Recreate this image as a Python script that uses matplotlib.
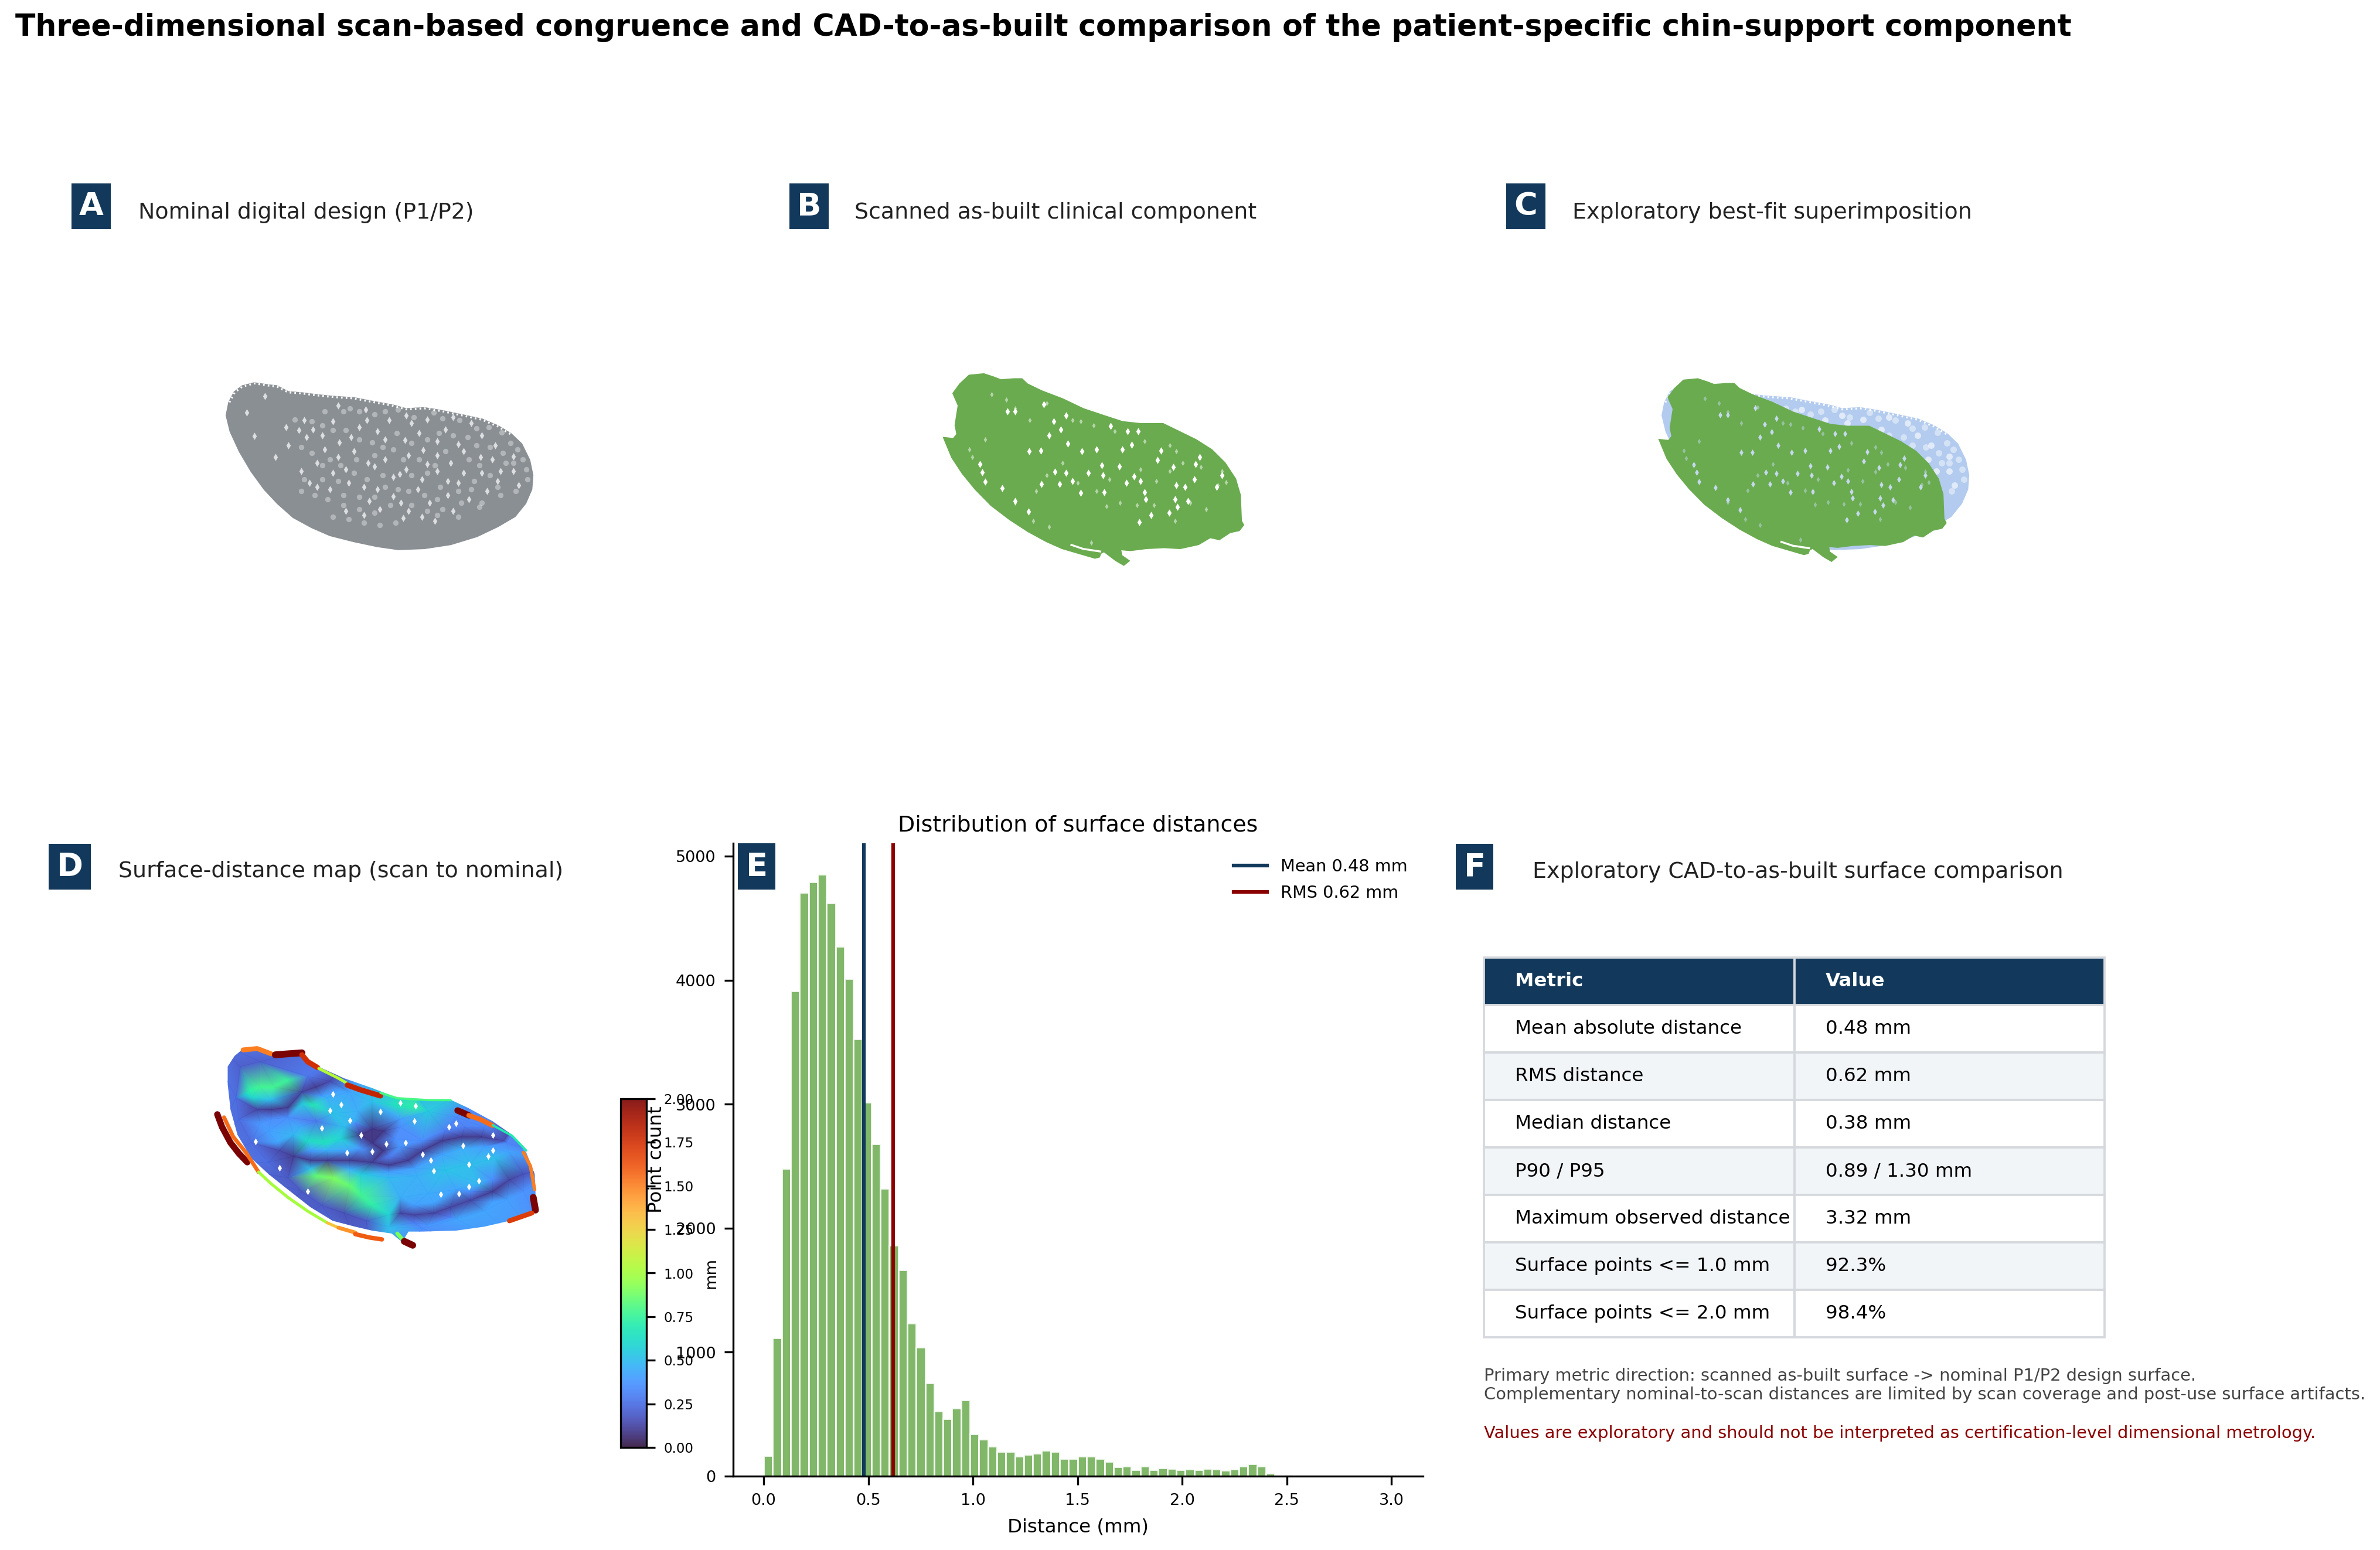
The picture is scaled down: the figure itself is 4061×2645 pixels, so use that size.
import matplotlib
matplotlib.use('Agg')
import matplotlib.pyplot as plt
import numpy as np
from matplotlib.cm import ScalarMappable
from matplotlib.colors import Normalize
from matplotlib.patches import Polygon, Rectangle

W = 4061
H = 2645

NAVY = '#12395B'
RED = '#8B0000'
GREEN = '#6AAB4F'
GREY = '#8A8F94'
BLUE = '#B2CBEE'

design_x = [205, 225, 255, 300, 350, 385, 430, 480, 540, 600, 680, 760, 830, 880, 950, 1020, 1100, 1170, 1230, 1280, 1320, 1350, 1362, 1358, 1335, 1295, 1230, 1150, 1050, 950, 850, 770, 680, 590, 520, 450, 390, 340, 290, 245, 210, 195]
design_y = [255, 205, 175, 160, 170, 175, 205, 210, 220, 228, 235, 255, 272, 290, 285, 300, 322, 342, 375, 415, 465, 545, 620, 690, 760, 825, 875, 925, 965, 985, 990, 975, 950, 920, 880, 830, 760, 690, 600, 500, 400, 320]
design_holes_x = [670, 625, 875, 525, 470, 490, 730, 620, 725, 815, 1170, 1080, 1030, 1165, 945, 890, 800, 735, 760, 960, 1050, 830, 855, 880, 600, 590, 660, 720, 770, 925, 1040, 830, 890, 990, 720, 650, 510, 540, 1230, 1170, 1100, 1290, 1240, 1000, 940, 1080, 1310, 1190, 1120, 970, 870, 780, 620, 570, 500, 420, 340, 300, 380, 480, 700, 770, 930, 1000, 1100, 1220, 1130, 1060, 880, 680, 650, 800, 1000, 1210, 1290, 1040, 740, 860, 1060, 940, 540, 430, 600, 560, 270, 900, 960]
design_holes_y = [430, 455, 445, 390, 395, 345, 345, 270, 290, 345, 420, 465, 390, 530, 495, 520, 440, 560, 575, 565, 560, 630, 615, 590, 610, 690, 660, 680, 690, 690, 720, 725, 800, 850, 820, 800, 660, 680, 650, 610, 610, 525, 600, 600, 640, 660, 670, 700, 740, 760, 835, 790, 530, 490, 430, 380, 225, 425, 530, 600, 380, 400, 410, 450, 500, 470, 360, 330, 320, 500, 590, 540, 520, 540, 600, 650, 750, 760, 800, 830, 560, 470, 350, 420, 305, 360, 340]
design_faint_x = [455, 520, 570, 640, 665, 700, 760, 800, 850, 910, 985, 1020, 1085, 1150, 1195, 1245, 1280, 1305, 1325, 1340, 1345, 1290, 1250, 1200, 1150, 1115, 1060, 1005, 960, 900, 845, 790, 750, 700, 650, 600, 560, 480, 520, 590, 560, 630, 690, 760, 830, 870, 930, 990, 1030, 1120, 1160, 1260, 1200, 1140, 1080, 1010, 960, 900, 790, 730, 680, 620, 560, 490, 480, 530, 580, 640, 700, 760, 800, 850, 890, 950, 1000, 1090, 1170, 1240, 1300, 1130, 1020, 960, 900, 820, 760, 700, 640, 600, 660, 720, 780, 840, 1000, 1080, 1160, 1230]
design_faint_y = [340, 350, 300, 300, 285, 300, 315, 300, 290, 330, 305, 335, 345, 385, 380, 405, 460, 490, 540, 590, 640, 560, 510, 480, 470, 430, 420, 410, 440, 460, 410, 480, 455, 440, 395, 395, 370, 480, 510, 540, 570, 570, 540, 520, 490, 540, 540, 570, 500, 540, 570, 560, 620, 650, 700, 680, 610, 620, 620, 640, 610, 650, 640, 640, 700, 720, 740, 720, 730, 730, 680, 690, 700, 720, 740, 760, 760, 720, 700, 690, 790, 800, 770, 770, 810, 790, 770, 830, 840, 860, 870, 860, 820, 830, 780, 680]

scan_x = [250, 285, 300, 293, 300, 305, 285, 310, 345, 400, 435, 465, 515, 545, 565, 620, 700, 780, 860, 930, 1000, 1085, 1140, 1210, 1270, 1320, 1360, 1378, 1382, 1390, 1375, 1340, 1300, 1265, 1220, 1150, 1090, 1020, 960, 920, 925, 952, 935, 905, 870, 860, 845, 840, 825, 770, 700, 640, 570, 500, 430, 370, 320, 280]
scan_y = [435, 440, 415, 370, 310, 270, 210, 165, 122, 115, 130, 145, 140, 140, 165, 200, 240, 290, 325, 355, 365, 365, 400, 445, 495, 560, 640, 720, 850, 870, 895, 905, 940, 930, 965, 985, 980, 985, 995, 990, 1025, 1050, 1068, 1045, 1010, 1000, 1010, 1028, 1033, 1012, 985, 950, 900, 840, 770, 690, 610, 530]
scan_slit_x = [735, 780, 845]
scan_slit_y = [970, 990, 1003]
scan_holes_x = [715, 668, 695, 650, 722, 573, 618, 918, 975, 1000, 1015, 1077, 930, 965, 1225, 1205, 1125, 1180, 1140, 1108, 1040, 570, 405, 385, 470, 520, 885, 950, 990, 800, 855, 715, 672, 690, 620, 770, 945, 1135, 1170, 1310, 1130, 775, 850, 830, 630, 490, 395, 520, 995, 1290, 1065, 1210, 860, 740, 1020]
scan_holes_y = [320, 350, 390, 420, 462, 500, 498, 575, 625, 650, 705, 497, 490, 468, 530, 640, 580, 750, 778, 810, 820, 802, 652, 565, 685, 300, 375, 400, 400, 610, 620, 610, 603, 665, 665, 710, 660, 670, 680, 620, 740, 500, 570, 490, 265, 300, 605, 750, 855, 680, 545, 565, 705, 650, 740]
scan_faint_x = [430, 485, 520, 575, 640, 740, 770, 820, 900, 1015, 1110, 1135, 1310, 1325, 1295, 1230, 1160, 1110, 1060, 1000, 880, 830, 760, 700, 640, 600, 345, 405, 355, 590, 650, 520, 870, 920, 985, 1130, 1250, 1190, 1050, 810]
scan_faint_y = [215, 240, 285, 345, 260, 345, 350, 370, 400, 450, 470, 500, 600, 655, 670, 580, 560, 600, 650, 590, 640, 700, 660, 560, 620, 700, 490, 440, 530, 850, 880, 760, 775, 760, 770, 850, 790, 760, 770, 960]

map_x = [185, 210, 240, 300, 340, 420, 460, 500, 600, 700, 790, 860, 980, 1040, 1130, 1200, 1250, 1280, 1285, 1270, 1190, 1100, 1000, 880, 830, 815, 850, 830, 770, 700, 640, 560, 480, 400, 330, 270, 220, 195, 185]
map_y = [210, 155, 120, 110, 140, 130, 160, 205, 270, 320, 370, 380, 380, 420, 490, 560, 650, 760, 920, 960, 1000, 1030, 1050, 1055, 1055, 1090, 1120, 1135, 1065, 1050, 1030, 1000, 930, 840, 760, 680, 560, 430, 300]
# bands of the distance map: dark troughs and bright ridges, each as x, y, mm
trough_x = [290, 340, 400, 450, 500, 550, 370, 420, 480, 540, 620, 700, 760, 830, 880, 950, 1020, 1090, 1170, 660, 700, 740, 700, 740, 800, 850, 920, 980, 1050, 1130, 1190, 1240, 400, 450, 520, 600, 680, 230, 300, 215, 225, 270, 330]
trough_y = [430, 430, 420, 340, 315, 285, 640, 670, 690, 690, 690, 700, 715, 690, 640, 590, 570, 570, 590, 560, 530, 540, 600, 640, 960, 970, 960, 930, 895, 850, 790, 760, 780, 850, 920, 960, 1000, 210, 185, 370, 480, 600, 700]
trough_mm = [0.12, 0.10, 0.10, 0.12, 0.10, 0.14, 0.14, 0.10, 0.10, 0.10, 0.10, 0.10, 0.10, 0.10, 0.10, 0.10, 0.10, 0.10, 0.14, 0.08, 0.08, 0.08, 0.08, 0.08, 0.12, 0.12, 0.12, 0.12, 0.12, 0.10, 0.12, 0.16, 0.18, 0.18, 0.18, 0.16, 0.18, 0.20, 0.20, 0.24, 0.24, 0.24, 0.24]
ridge_x = [260, 300, 350, 400, 270, 250, 300, 330, 360, 420, 470, 530, 590, 600, 560, 490, 540, 500, 500, 560, 620, 660, 700, 760, 660, 760, 860, 960, 1050, 1140, 1190, 800, 900, 1000, 1080, 620, 700, 790, 860, 900, 1000, 1100, 1180, 900, 1000, 1100, 1180, 1240, 760, 880, 640, 470, 440, 650, 800]
ridge_y = [330, 315, 315, 280, 370, 350, 500, 540, 600, 560, 590, 600, 580, 520, 450, 405, 370, 490, 770, 780, 820, 870, 920, 970, 760, 780, 770, 740, 710, 680, 650, 880, 860, 840, 810, 340, 390, 410, 420, 440, 470, 520, 600, 1020, 990, 950, 890, 850, 1030, 1040, 480, 260, 520, 440, 480]
ridge_mm = [0.72, 0.78, 0.78, 0.75, 0.60, 0.60, 0.38, 0.40, 0.42, 0.48, 0.62, 0.65, 0.58, 0.50, 0.52, 0.68, 0.45, 0.28, 0.85, 0.90, 0.85, 0.78, 0.72, 0.58, 0.55, 0.48, 0.46, 0.52, 0.50, 0.50, 0.42, 0.45, 0.44, 0.42, 0.48, 0.42, 0.50, 0.66, 0.72, 0.55, 0.34, 0.34, 0.32, 0.38, 0.42, 0.42, 0.40, 0.36, 0.50, 0.35, 0.46, 0.28, 0.44, 0.45, 0.40]
# points either side of the troughs, they keep the dark bands narrow
flank_x = [480, 540, 620, 760, 800, 880, 960, 1030, 1100, 480, 620, 760, 850, 950, 1020, 1100, 850, 920, 1050, 1130, 850, 980, 1130, 640, 780, 660, 800, 400, 340, 340, 450, 520, 580]
flank_y = [640, 640, 640, 670, 620, 590, 540, 520, 520, 730, 735, 750, 730, 660, 630, 620, 920, 910, 850, 790, 1010, 980, 900, 500, 580, 630, 520, 470, 480, 380, 400, 360, 330]
flank_mm = [0.40, 0.45, 0.42, 0.30, 0.38, 0.35, 0.30, 0.30, 0.32, 0.50, 0.45, 0.40, 0.40, 0.42, 0.45, 0.40, 0.40, 0.42, 0.35, 0.35, 0.30, 0.30, 0.40, 0.35, 0.35, 0.38, 0.35, 0.35, 0.35, 0.50, 0.55, 0.40, 0.40]
corner_x = [100, 700, 1400, 1400, 100, 100, 700, 1400]
corner_y = [50, 50, 50, 700, 700, 1300, 1300, 1300]
corner_mm = [0.30, 0.30, 0.30, 0.30, 0.30, 0.30, 0.30, 0.30]
map_holes_x = [820, 880, 920, 590, 520, 620, 750, 1025, 1115, 1045, 945, 1010, 1080, 1045, 855, 975, 1130, 800, 470, 610, 700, 370, 285, 560, 660, 910, 1000, 1130, 850, 730, 550]
map_holes_y = [600, 660, 745, 405, 525, 485, 605, 615, 670, 710, 865, 860, 795, 825, 410, 520, 560, 395, 850, 650, 645, 730, 595, 350, 560, 690, 500, 640, 490, 440, 435]
edge_x = [[148, 165, 195, 225, 255], [172, 205, 250, 295], [295, 340, 400, 470, 540], [540, 580], [580, 640], [640, 690, 735], [240, 290, 340], [355, 400, 450], [450, 470, 505], [510, 580, 610], [612, 660, 730], [1005, 1045], [1045, 1085, 1130], [1240, 1265, 1280], [1275, 1283], [1190, 1230, 1270], [790, 815], [815, 845], [730, 790, 900, 980], [1130, 1200, 1250]]
edge_y = [[455, 520, 600, 655, 700], [470, 570, 650, 750], [750, 810, 880, 950, 1010], [1010, 1035], [1035, 1060], [1068, 1085, 1095], [125, 118, 145], [150, 145, 140], [150, 185, 215], [220, 270, 295], [305, 330, 360], [435, 460], [460, 480, 512], [650, 720, 840], [880, 945], [1000, 980, 960], [1065, 1105], [1105, 1125], [345, 372, 382, 382], [510, 565, 640]]
edge_mm = [2.0, 1.55, 1.0, 1.3, 1.45, 1.6, 1.5, 2.0, 1.75, 1.05, 1.8, 2.0, 1.55, 1.5, 2.0, 1.7, 0.9, 2.0, 0.8, 0.7]
edge_w = [2.6, 1.6, 1.2, 1.2, 1.6, 1.8, 2.0, 2.8, 2.2, 1.2, 2.2, 2.6, 2.0, 1.4, 2.8, 2.0, 1.6, 2.8, 0.9, 0.9]

# histogram of surface distances, 70 bins over 0-3 mm
bin_edges = np.linspace(0, 3, 71)
bin_counts = [167, 1117, 2480, 3914, 4708, 4792, 4855, 4623, 4273, 4013, 3525, 3015, 2679, 2320, 1862, 1664, 1232, 1039, 753, 523, 461, 549, 613, 339, 296, 239, 200, 200, 160, 177, 183, 210, 197, 140, 140, 160, 160, 144, 117, 74, 78, 54, 78, 54, 64, 60, 52, 57, 52, 62, 57, 49, 57, 79, 100, 79, 24, 2, 8, 2, 2, 1, 1, 1, 0, 0, 0, 0, 0, 1]
mean_mm = 0.48
rms_mm = 0.62

cbar_ticks = [0.0, 0.25, 0.5, 0.75, 1.0, 1.25, 1.5, 1.75, 2.0]
hist_xticks = [0.0, 0.5, 1.0, 1.5, 2.0, 2.5, 3.0]
hist_yticks = [0, 1000, 2000, 3000, 4000, 5000]

table_cols = ['Metric', 'Value']
table_metrics = ['Mean absolute distance', 'RMS distance', 'Median distance', 'P90 / P95', 'Maximum observed distance', 'Surface points <= 1.0 mm', 'Surface points <= 2.0 mm']
table_values = ['0.48 mm', '0.62 mm', '0.38 mm', '0.89 / 1.30 mm', '3.32 mm', '92.3%', '98.4%']


def box(x0, y0, x1, y1):
    return [x0 / W, 1 - y1 / H, (x1 - x0) / W, (y1 - y0) / H]


def panel(x0, y0, x1, y1, xmax, ymax):
    ax = fig.add_axes(box(x0, y0, x1, y1))
    ax.set_xlim(0, xmax)
    ax.set_ylim(ymax, 0)
    ax.axis('off')
    return ax


def badge(letter, x0, y0, x1, y1):
    fig.add_artist(Rectangle((x0 / W, 1 - y1 / H), (x1 - x0) / W, (y1 - y0) / H, transform=fig.transFigure, color=NAVY, lw=0, zorder=5))
    fig.text((x0 + x1) / 2 / W, 1 - (y0 + y1) / 2 / H, letter, color='white', fontsize=13, fontweight='bold', ha='center', va='center', zorder=6)


def heading(text, x, y):
    fig.text(x / W, 1 - y / H, text, fontsize=9.1, color='#222222', ha='left', va='center')


def to_overlay_x(x):
    return 185 + (np.array(x) - 250) * 0.956


def to_overlay_y(y):
    return 140 + (np.array(y) - 115) * 0.953


fig = plt.figure(figsize=(13.537, 8.817), dpi=300)
fig.text(26 / W, 1 - 47 / H, 'Three-dimensional scan-based congruence and CAD-to-as-built comparison of the patient-specific chin-support component',
         fontsize=12.13, fontweight='bold', ha='left', va='center')

# A
ax_a = panel(300, 600, 1000, 1000, 1568, 1176)
ax_a.add_patch(Polygon(np.column_stack([design_x, design_y]), color=GREY, lw=1))
ax_a.plot(design_x[:20], design_y[:20], color='white', lw=0.8, ls=(0, (0.8, 1.6)))
ax_a.scatter(design_holes_x, design_holes_y, s=4.5, marker='d', color='white', alpha=0.7, lw=0)
ax_a.scatter(design_faint_x, design_faint_y, s=5, color='white', alpha=0.35, lw=0)
badge('A', 122, 313, 189, 391)
heading('Nominal digital design (P1/P2)', 236, 363)

# B
ax_b = panel(1500, 600, 2200, 1000, 1568, 1176)
ax_b.add_patch(Polygon(np.column_stack([scan_x, scan_y]), color=GREEN, lw=1))
ax_b.plot(scan_slit_x, scan_slit_y, color='white', lw=0.8)
ax_b.scatter(scan_holes_x, scan_holes_y, s=4.5, marker='d', color='white', lw=0)
ax_b.scatter(scan_faint_x, scan_faint_y, s=2.5, marker='d', color='white', alpha=0.5, lw=0)
badge('B', 1347, 313, 1414, 391)
heading('Scanned as-built clinical component', 1458, 363)

# C
ax_c = panel(2750, 600, 3450, 1000, 1568, 1176)
ax_c.add_patch(Polygon(np.column_stack([design_x, design_y]), color=BLUE, lw=1))
ax_c.plot(design_x[:20], design_y[:20], color='white', lw=0.8, ls=(0, (0.8, 1.6)))
ax_c.scatter(design_holes_x, design_holes_y, s=7, color='white', alpha=0.6, lw=0)
ax_c.scatter(design_faint_x, design_faint_y, s=7, color='white', alpha=0.45, lw=0)
ax_c.add_patch(Polygon(np.column_stack([to_overlay_x(scan_x), to_overlay_y(scan_y)]), color=GREEN, lw=1, zorder=3))
ax_c.plot(to_overlay_x(scan_slit_x), to_overlay_y(scan_slit_y), color='white', lw=0.8, zorder=4)
ax_c.scatter(to_overlay_x(scan_holes_x), to_overlay_y(scan_holes_y), s=3.5, marker='d', color='#C5D9EE', lw=0, zorder=4)
ax_c.scatter(to_overlay_x(scan_faint_x), to_overlay_y(scan_faint_y), s=2.5, marker='d', color='#C5D9EE', alpha=0.5, lw=0, zorder=4)
badge('C', 2570, 313, 2637, 391)
heading('Exploratory best-fit superimposition', 2683, 363)

# D
norm = Normalize(0, 2)
cmap = plt.get_cmap('turbo')
ax_d = panel(300, 1750, 1050, 2200, 1568, 1350)
body = Polygon(np.column_stack([map_x, map_y]), transform=ax_d.transData, fc='none', ec='none')
ax_d.add_patch(body)
field_x = trough_x + ridge_x + flank_x + corner_x
field_y = trough_y + ridge_y + flank_y + corner_y
field_mm = trough_mm + ridge_mm + flank_mm + corner_mm
mesh = ax_d.tripcolor(field_x, field_y, field_mm, shading='gouraud', cmap=cmap, norm=norm, alpha=0.95)
mesh.set_clip_path(body)
for ex, ey, mm, w in zip(edge_x, edge_y, edge_mm, edge_w):
    ax_d.plot(ex, ey, color=cmap(norm(mm)), lw=w, solid_capstyle='round')
ax_d.scatter(map_holes_x, map_holes_y, s=4, marker='d', color='white', lw=0)
ax_d.set_xlim(0, 1568)
ax_d.set_ylim(1350, 0)
badge('D', 83, 1440, 155, 1518)
heading('Surface-distance map (scan to nominal)', 202, 1487)

# E
ax_e = fig.add_axes(box(1250.6, 1439, 2428, 2519))
ax_e.bar(bin_edges[:-1], bin_counts, width=np.diff(bin_edges), align='edge', color=GREEN, alpha=0.85, edgecolor='white', linewidth=0.7)
ax_e.axvline(mean_mm, color=NAVY, lw=1.5, label='Mean 0.48 mm')
ax_e.axvline(rms_mm, color=RED, lw=1.5, label='RMS 0.62 mm')
ax_e.set_xlim(-0.147, 3.151)
ax_e.set_ylim(0, 5106)
ax_e.set_xticks(hist_xticks)
ax_e.set_yticks(hist_yticks)
ax_e.tick_params(labelsize=6.5, width=0.8, length=3.5)
ax_e.set_xlabel('Distance (mm)', fontsize=7.8)
ax_e.set_ylabel('Point count', fontsize=7.8)
ax_e.set_title('Distribution of surface distances', fontsize=9.1, pad=5)
ax_e.spines['top'].set_visible(False)
ax_e.spines['right'].set_visible(False)
ax_e.legend(frameon=False, fontsize=6.9, loc='upper right', borderaxespad=0.5, labelspacing=0.6)
badge('E', 1259, 1439, 1323, 1518)

# colourbar of panel D sits on top of the histogram labels
cax = fig.add_axes(box(1059, 1875, 1103, 2470))
cb = fig.colorbar(ScalarMappable(norm=norm, cmap=cmap), cax=cax, alpha=0.9)
cb.set_ticks(cbar_ticks)
cb.ax.tick_params(labelsize=5.5, width=0.8, length=3.5)
cb.set_label('mm', fontsize=6.5)

# F
badge('F', 2484, 1440, 2548, 1518)
heading('Exploratory CAD-to-as-built surface comparison', 2615, 1488)
ax_f = fig.add_axes(box(2532, 1634, 3591, 2282))
ax_f.axis('off')
rows = [[m, v] for m, v in zip(table_metrics, table_values)]
tbl = ax_f.table(cellText=rows, colLabels=table_cols, cellLoc='left', colLoc='left', bbox=[0, 0, 1, 1], colWidths=[0.5, 0.5])
tbl.auto_set_font_size(False)
tbl.set_fontsize(7.8)
for (r, c), cell in tbl.get_celld().items():
    cell.set_edgecolor('#D5D8DC')
    cell.set_linewidth(0.9)
    if r == 0:
        cell.set_facecolor(NAVY)
        cell.set_text_props(color='white', fontweight='bold')
    elif r % 2 == 0:
        cell.set_facecolor('#F2F5F8')
    else:
        cell.set_facecolor('white')

fig.text(2532 / W, 1 - 2348 / H, 'Primary metric direction: scanned as-built surface -> nominal P1/P2 design surface.', fontsize=6.93, color='#444444', ha='left', va='center')
fig.text(2532 / W, 1 - 2380 / H, 'Complementary nominal-to-scan distances are limited by scan coverage and post-use surface artifacts.', fontsize=6.93, color='#444444', ha='left', va='center')
fig.text(2532 / W, 1 - 2446 / H, 'Values are exploratory and should not be interpreted as certification-level dimensional metrology.', fontsize=6.93, color=RED, ha='left', va='center')

fig.savefig('out.png', dpi=300)
